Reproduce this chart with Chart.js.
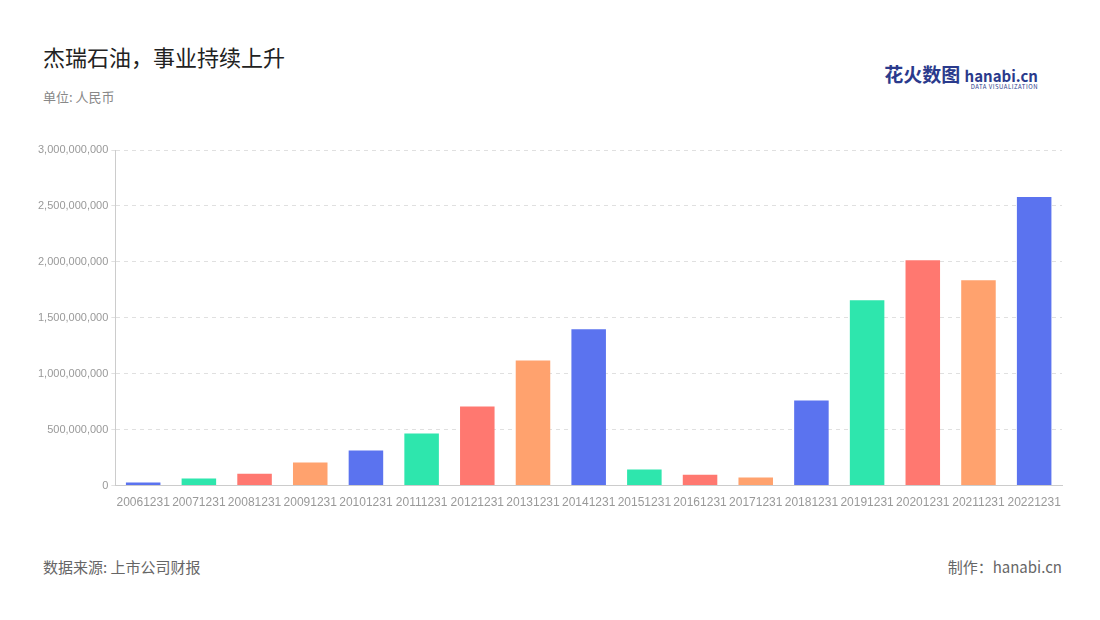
<!DOCTYPE html>
<html><head><meta charset="utf-8">
<script src="https://cdn.jsdelivr.net/npm/chart.js@4"></script>
<style>
body{margin:0;width:1100px;height:620px;background:#fff;font-family:"Noto Sans CJK SC","Noto Sans",sans-serif;position:relative;overflow:hidden}
#t{position:absolute;left:43px;top:40px;font-size:22px;color:#222}
#s{position:absolute;left:43px;top:87px;font-size:13px;color:#888}
#f1{position:absolute;left:43px;top:556px;font-size:15px;color:#666}
#f2{position:absolute;right:38px;top:556px;font-size:15px;color:#666}
#logo{position:absolute;right:62px;top:60px;font-size:19px;font-weight:bold;color:#2a3a8c}
#logo span{font-size:15px}
#logo small{display:block;font-size:6px;font-weight:normal;text-align:right;margin-top:-5px;letter-spacing:0.5px}
#c{position:absolute;left:0;top:130px;width:1100px;height:382px}
</style></head><body>
<div id="t">杰瑞石油，事业持续上升</div>
<div id="s">单位: 人民币</div>
<div id="logo">花火数图 <span>hanabi.cn</span><small>DATA VISUALIZATION</small></div>
<div id="c"><canvas id="cv"></canvas></div>
<div id="f1">数据来源: 上市公司财报</div>
<div id="f2">制作：hanabi.cn</div>
<script>
const categories=["20061231","20071231","20081231","20091231","20101231","20111231","20121231","20131231","20141231","20151231","20161231","20171231","20181231","20191231","20201231","20211231","20221231"];
const values=[27e6,63e6,107e6,206e6,313e6,466e6,707e6,1119e6,1397e6,143e6,98e6,72e6,761e6,1657e6,2015e6,1836e6,2579e6];
const palette=["#5b73ef","#2ee6ad","#ff7870","#ffa26e"];
new Chart(document.getElementById('cv'),{type:'bar',
data:{labels:categories,datasets:[{data:values,backgroundColor:categories.map((_,i)=>palette[i%4]),categoryPercentage:0.62,barPercentage:1}]},
options:{responsive:true,maintainAspectRatio:false,animation:false,
layout:{padding:{left:35,right:38,top:20}},
plugins:{legend:{display:false},tooltip:{enabled:false}},
scales:{
x:{grid:{display:false},border:{color:'#ccc'},ticks:{color:'#999',font:{size:12},maxRotation:0,autoSkip:false,padding:2}},
y:{min:0,max:3e9,ticks:{stepSize:5e8,color:'#999',font:{size:11},callback:v=>v.toLocaleString('en-US')},
grid:{color:'#e0e0e0',drawTicks:true,tickLength:4},border:{display:true,color:'#ccc',dash:[4,4]}}
}}});
</script>
</body></html>
